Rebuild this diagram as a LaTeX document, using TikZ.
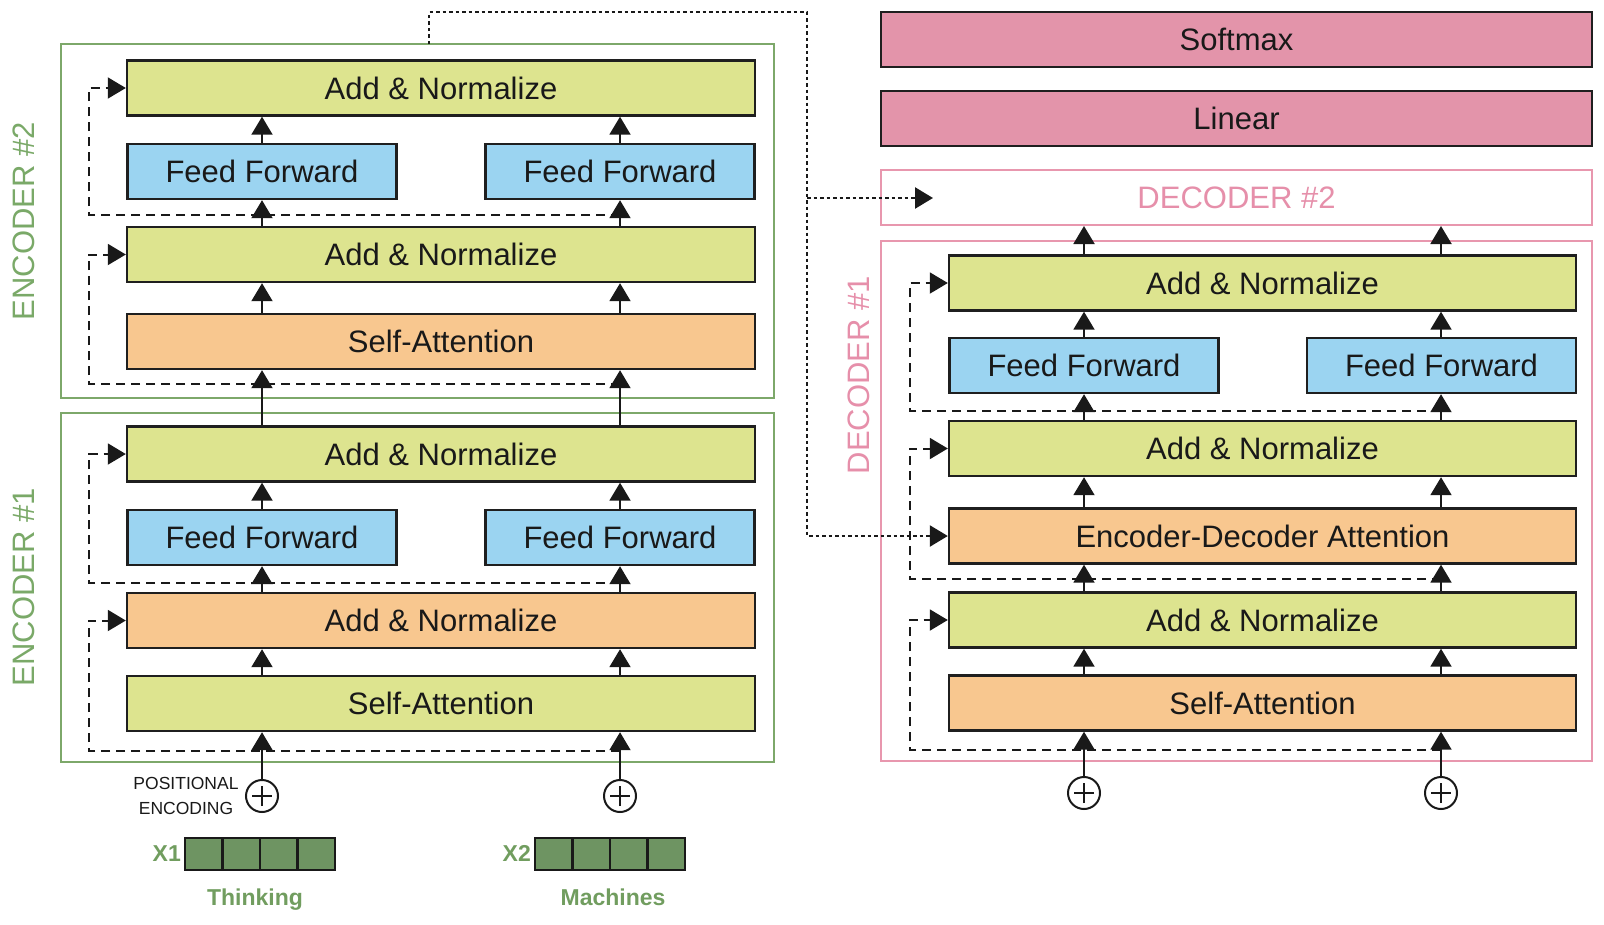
\documentclass[tikz,border=0pt]{standalone}
\usepackage{fontspec}
\setmainfont{Liberation Sans}
\usetikzlibrary{arrows.meta}
\definecolor{cgreen}{HTML}{DDE48F}
\definecolor{cblue}{HTML}{9BD4F1}
\definecolor{corange}{HTML}{F8C78F}
\definecolor{cpink}{HTML}{E394AA}
\definecolor{fgreen}{HTML}{7DA86A}
\definecolor{tgreen}{HTML}{7AA968}
\definecolor{dpink}{HTML}{E897AE}
\definecolor{tpink}{HTML}{E68FAA}
\definecolor{xgreen}{HTML}{6E9462}
\definecolor{xlab}{HTML}{719D5F}
\begin{document}
\begin{tikzpicture}[x=1pt,y=-1pt,
  box/.style={draw=black!88, line width=2.4pt, minimum height=55pt, inner sep=0pt,
    font=\fontsize{31}{36}\selectfont, text=black!90},
  wbox/.style={box, minimum width=628pt},
  dbox/.style={box, minimum width=627pt},
  ffbox/.style={box, fill=cblue, minimum width=269pt},
  frameE/.style={draw=fgreen, line width=2pt, inner sep=0pt},
  frameD/.style={draw=dpink, line width=2pt, inner sep=0pt},
  lbl/.style={font=\fontsize{31}{36}\selectfont, rotate=90},
  arr/.style={line width=2pt, draw=black!90, -{Triangle[length=18pt,width=21pt]}},
  res/.style={line width=2pt, draw=black!90, dash pattern=on 9pt off 6pt, -{Triangle[length=18pt,width=21pt]}},
  ed/.style={line width=2.4pt, draw=black!90, dash pattern=on 3.5pt off 3pt},
  oplus/.style={circle, draw=black!90, line width=2pt, minimum size=32pt, inner sep=0pt,
    path picture={
      \draw[line width=1.6pt] ([xshift=-10pt]path picture bounding box.center) -- ([xshift=10pt]path picture bounding box.center);
      \draw[line width=1.6pt] ([yshift=-10pt]path picture bounding box.center) -- ([yshift=10pt]path picture bounding box.center);
    }},
  cell/.style={draw=black!90, line width=2.4pt, fill=xgreen, minimum width=37.5pt, minimum height=32pt, inner sep=0pt},
  xl/.style={font=\bfseries\fontsize{23}{26}\selectfont, text=xlab, inner sep=0pt}
]
\useasboundingbox (0,0) rectangle (1604,924);

% frames
\node[frameE, minimum width=713pt, minimum height=354pt] (enc2) at (417.5,221) {};
\node[frameE, minimum width=713pt, minimum height=349pt] (enc1) at (417.5,587.5) {};
\node[frameD, minimum width=711pt, minimum height=520pt] (dec1) at (1236.5,501) {};

% labels
\node[lbl, text=tgreen] (l2) at (24,221) {ENCODER \#2};
\node[lbl, text=tgreen] (l1) at (24,587) {ENCODER \#1};
\node[lbl, text=tpink] (ld1) at (859,375) {DECODER \#1};

% columns
\coordinate (c1) at (262,0);
\coordinate (c2) at (620,0);
\coordinate (c3) at (1084,0);
\coordinate (c4) at (1441,0);

% encoder 2
\node[wbox, fill=cgreen] (e2an2) at (441,88) {Add \& Normalize};
\node[ffbox] (e2ffa) at (262,171.5) {Feed Forward};
\node[ffbox] (e2ffb) at (620,171.5) {Feed Forward};
\node[wbox, fill=cgreen] (e2an1) at (441,254.5) {Add \& Normalize};
\node[wbox, fill=corange] (e2sa) at (441,341.5) {Self-Attention};

% encoder 1
\node[wbox, fill=cgreen] (e1an2) at (441,454) {Add \& Normalize};
\node[ffbox] (e1ffa) at (262,537.5) {Feed Forward};
\node[ffbox] (e1ffb) at (620,537.5) {Feed Forward};
\node[wbox, fill=corange] (e1an1) at (441,620.5) {Add \& Normalize};
\node[wbox, fill=cgreen] (e1sa) at (441,703.5) {Self-Attention};

% decoder
\node[box, fill=cpink, minimum width=711pt] (soft) at (1236.5,39.5) {Softmax};
\node[box, fill=cpink, minimum width=711pt] (lin) at (1236.5,118.5) {Linear};
\node[box, draw=dpink, line width=2pt, fill=white, text=tpink, minimum width=711pt] (dec2) at (1236.5,197.5) {DECODER \#2};
\node[dbox, fill=cgreen] (dan3) at (1262.5,283) {Add \& Normalize};
\node[ffbox] (dffa) at (1084,365.5) {Feed Forward};
\node[ffbox] (dffb) at (1441.5,365.5) {Feed Forward};
\node[dbox, fill=cgreen] (dan2) at (1262.5,448.5) {Add \& Normalize};
\node[dbox, fill=corange] (dedA) at (1262.5,536) {Encoder-Decoder Attention};
\node[dbox, fill=cgreen] (dan1) at (1262.5,620) {Add \& Normalize};
\node[dbox, fill=corange] (dsa) at (1262.5,703) {Self-Attention};

% positional encoding
\node[oplus] (pe1) at (262,796) {};
\node[oplus] (pe2) at (620,796) {};
\node[oplus] (pd1) at (1084,793) {};
\node[oplus] (pd2) at (1441,793) {};
\node[align=center, font=\fontsize{17.5}{25}\selectfont, text=black!90, inner sep=0pt] (pos) at (186,796) {POSITIONAL\\ENCODING};

% inputs
\foreach \i/\x in {1/203.75,2/241.25,3/278.75,4/316.25}{
  \node[cell] (xa\i) at (\x,854) {};
}
\foreach \i/\x in {1/553.75,2/591.25,3/628.75,4/666.25}{
  \node[cell] (xb\i) at (\x,854) {};
}
\node[xl, anchor=base east] (x1l) at (181,861) {X1};
\node[xl, anchor=base east] (x2l) at (531,861) {X2};
\node[xl, anchor=base] (w1) at (255,905) {Thinking};
\node[xl, anchor=base] (w2) at (613,905) {Machines};

% encoder arrows
\draw[arr] (pe1.north) -- (e1sa.south -| pe1);
\draw[arr] (pe2.north) -- (e1sa.south -| pe2);
\foreach \c in {c1,c2}{
  \draw[arr] (e1sa.north -| \c) -- (e1an1.south -| \c);
  \draw[arr] (e1an1.north -| \c) -- (e1ffa.south -| \c);
  \draw[arr] (e1ffa.north -| \c) -- (e1an2.south -| \c);
  \draw[arr] (e1an2.north -| \c) -- (e2sa.south -| \c);
  \draw[arr] (e2sa.north -| \c) -- (e2an1.south -| \c);
  \draw[arr] (e2an1.north -| \c) -- (e2ffa.south -| \c);
  \draw[arr] (e2ffa.north -| \c) -- (e2an2.south -| \c);
}
% decoder arrows
\draw[arr] (pd1.north) -- (dsa.south -| pd1);
\draw[arr] (pd2.north) -- (dsa.south -| pd2);
\foreach \c in {c3,c4}{
  \draw[arr] (dsa.north -| \c) -- (dan1.south -| \c);
  \draw[arr] (dan1.north -| \c) -- (dedA.south -| \c);
  \draw[arr] (dedA.north -| \c) -- (dan2.south -| \c);
  \draw[arr] (dan2.north -| \c) -- (dffa.south -| \c);
  \draw[arr] (dffa.north -| \c) -- (dan3.south -| \c);
  \draw[arr] (dan3.north -| \c) -- (dec2.south -| \c);
}

% residual connections
\coordinate (re1) at (620,751);
\coordinate (re2) at (620,583);
\coordinate (re3) at (620,384);
\coordinate (re4) at (620,215);
\coordinate (rd1) at (1441,750);
\coordinate (rd2) at (1441,579);
\coordinate (rd3) at (1441,411);
\draw[res] (re1) -| ([xshift=-37pt]e1an1.west) -- (e1an1.west);
\draw[res] (re2) -| ([xshift=-37pt]e1an2.west) -- (e1an2.west);
\draw[res] (re3) -| ([xshift=-37pt]e2an1.west) -- (e2an1.west);
\draw[res] (re4) -| ([xshift=-37pt]e2an2.west) -- (e2an2.west);
\draw[res] (rd1) -| ([xshift=-38pt]dan1.west) -- (dan1.west);
\draw[res] (rd2) -| ([xshift=-38pt]dan2.west) -- (dan2.west);
\draw[res] (rd3) -| ([xshift=-38pt]dan3.west) -- (dan3.west);

% encoder-decoder link
\coordinate (tap) at (429,44);
\coordinate (edtop) at (807,12);
\coordinate (edbr) at (807,198);
\coordinate (d2in) at (933,198);
\draw[ed, -{Triangle[length=18pt,width=21pt]}] (tap) |- (edtop) |- (dedA.west);
\draw[ed, -{Triangle[length=18pt,width=21pt]}] (edbr) -- (d2in);
\end{tikzpicture}
\end{document}
